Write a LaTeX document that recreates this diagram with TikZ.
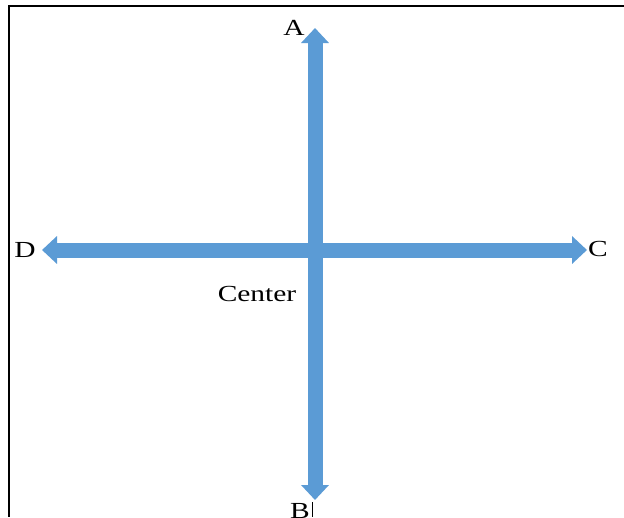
\documentclass[tikz,border=0pt]{standalone}
\usepackage{fontspec}
\setmainfont{Liberation Serif}
\usetikzlibrary{arrows.meta}
\definecolor{officeblue}{RGB}{91,155,213}
\tikzset{
  bigarrow/.style={draw=officeblue, line width=15pt,
    {Triangle[width=27pt,length=15pt]}-{Triangle[width=27pt,length=15pt]}},
  lbl/.style={inner sep=0pt, anchor=base, font=\fontsize{23}{23}\selectfont, xscale=1.28},
  frame/.style={draw=black, line width=2pt}
}
\begin{document}
\begin{tikzpicture}[x=1pt,y=-1pt]
\useasboundingbox (0,0) rectangle (624,517);
\fill[white] (0,0) rectangle (624,517);
\draw[frame] (624,5.5) -| (8.5,517);
% arrow end points
\coordinate (At) at (315,28);
\coordinate (Bt) at (315,500);
\coordinate (Dt) at (42,250);
\coordinate (Ct) at (587,250);
\draw[bigarrow] (Dt) -- (Ct);
\draw[bigarrow] (At) -- (Bt);
% labels
\node[lbl] (A) at (294,35) {A};
\node[lbl] (B) at (300,518) {B};
\node[lbl] (D) at (25,257) {D};
\node[lbl] (C) at (598,256) {C};
\node[lbl] (Center) at (257,301) {Center};
\coordinate (cur1) at (312.5,502);
\coordinate (cur2) at (312.5,517);
\draw[black, line width=1pt] (cur1) -- (cur2);
\end{tikzpicture}
\end{document}
